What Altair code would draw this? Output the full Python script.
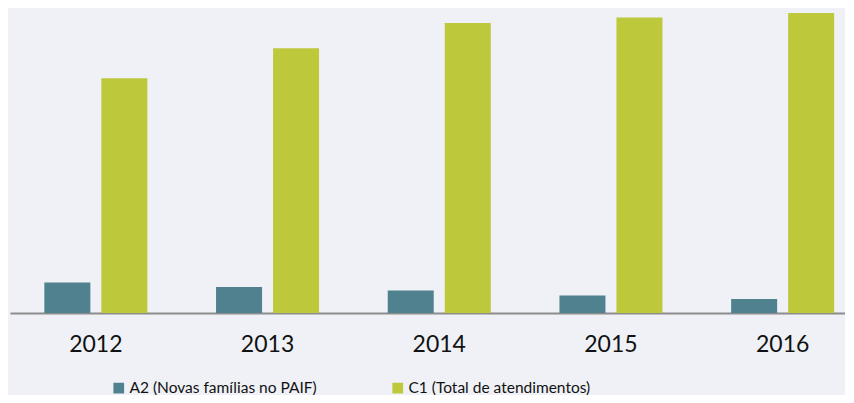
import altair as alt
import pandas as pd

years = ["2012", "2013", "2014", "2015", "2016"]
series = ["A2 (Novas famílias no PAIF)", "C1 (Total de atendimentos)"]
a2_values = [30.4, 26.0, 22.4, 17.4, 14.0]
c1_values = [234.7, 264.7, 290.0, 295.4, 300.0]
colors = ["#50818e", "#bdc83a"]

rows = []
for y, a, c in zip(years, a2_values, c1_values):
    rows.append({"ano": y, "serie": series[0], "valor": a})
    rows.append({"ano": y, "serie": series[1], "valor": c})
df = pd.DataFrame(rows)

BG = "#eff1f6"
FONT = "Lato"

chart = (
    alt.Chart(df)
    .mark_bar()
    .encode(
        x=alt.X(
            "ano:N",
            sort=years,
            title=None,
            scale=alt.Scale(paddingInner=0.4, paddingOuter=0.2, range=[0, 858.5]),
            axis=alt.Axis(
                labelAngle=0,
                labelFontSize=23,
                labelFont=FONT,
                labelColor="#111111",
                labelPadding=20,
                ticks=False,
                domainColor="#8c8c8c",
                domainWidth=2,
                grid=False,
            ),
        ),
        xOffset=alt.XOffset(
            "serie:N",
            sort=series,
            scale=alt.Scale(paddingInner=0.193, paddingOuter=0),
        ),
        y=alt.Y(
            "valor:Q",
            scale=alt.Scale(domain=[0, 300], nice=False),
            axis=None,
        ),
        color=alt.Color(
            "serie:N",
            sort=series,
            scale=alt.Scale(domain=series, range=colors),
            legend=alt.Legend(
                title=None,
                orient="none",
                direction="horizontal",
                legendX=101,
                legendY=367,
                symbolType="square",
                symbolSize=115,
                symbolStrokeWidth=0,
                labelFontSize=15.5,
                labelFont=FONT,
                labelColor="#111111",
                labelLimit=400,
                labelOffset=3,
                columnPadding=73,
                symbolOpacity=1,
            ),
        ),
    )
    .properties(
        width=835,
        height=300,
        autosize=alt.AutoSizeParams(type="none"),
        padding={"left": 2, "top": 5, "right": 0, "bottom": 82},
        background=BG,
    )
    .configure_view(stroke=None)
)

chart.save("out.html", embed_options={"renderer": "svg", "actions": False})
